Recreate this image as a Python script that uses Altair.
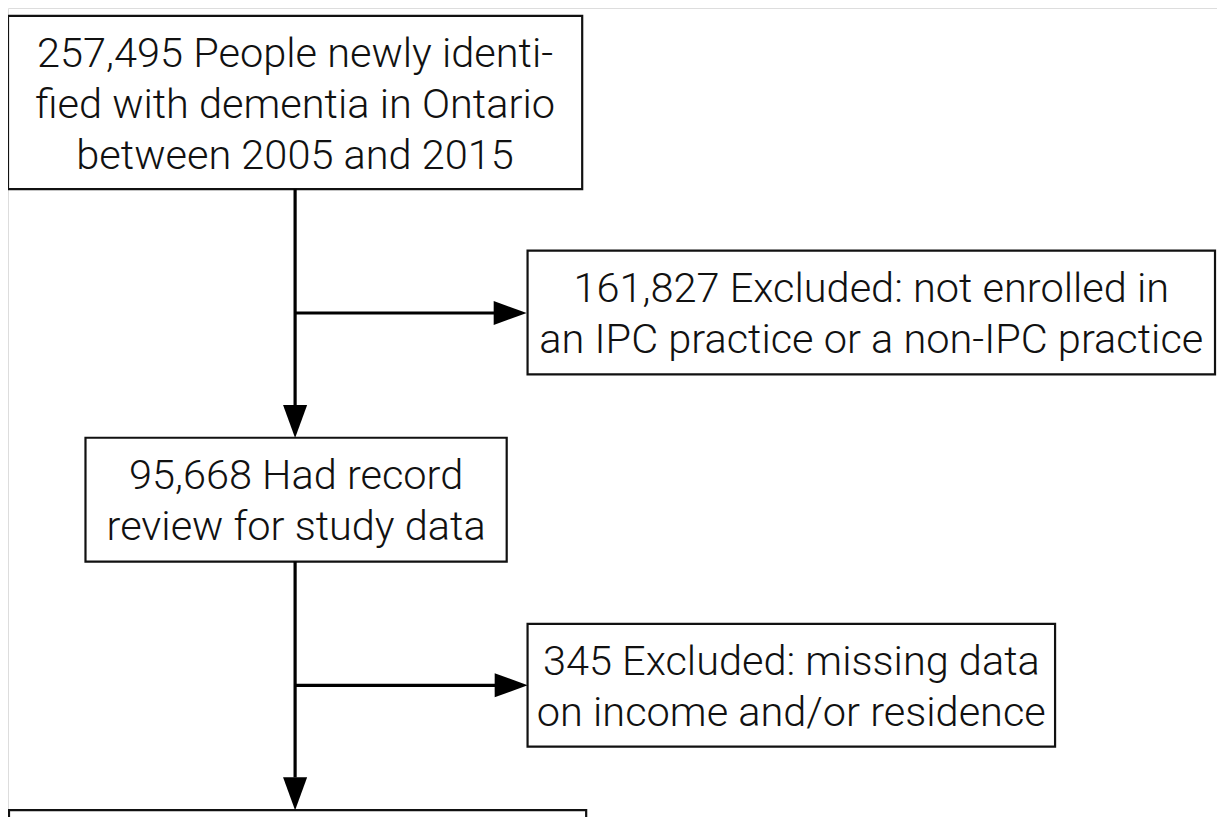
import altair as alt
import pandas as pd

# ---- flowchart content ----
box_texts = [
    "257,495 People newly identi-\nfied with dementia in Ontario\nbetween 2005 and 2015",
    "161,827 Excluded: not enrolled in\nan IPC practice or a non-IPC practice",
    "95,668 Had record\nreview for study data",
    "345 Excluded: missing data\non income and/or residence",
    "",
]
# box geometry in page pixels (left, right, top, bottom)
box_x1 = [8, 531, 86, 531, 9]
box_x2 = [586, 1223, 510, 1062, 590]
box_y1 = [16, 253, 442, 630, 818]
box_y2 = [191, 378, 567, 754, 900]

# connector segments
seg_x1 = [297, 297, 297, 297]
seg_x2 = [297, 500, 297, 500]
seg_y1 = [191, 316, 567, 692]
seg_y2 = [410, 316, 785, 692]

# arrow heads (tip positions) and direction angle
head_x = [530, 297, 531, 297]
head_y = [316, 442, 692, 818]
head_angle = [0, 90, 0, 90]

HEAD_LEN = 33
LINE_H = 51

boxes = pd.DataFrame({
    "x1": box_x1, "x2": box_x2, "y1": box_y1, "y2": box_y2,
    "label": box_texts,
})
boxes["cx"] = (boxes.x1 + boxes.x2) / 2
boxes["cy"] = (boxes.y1 + boxes.y2) / 2
labels = boxes[boxes.label != ""].copy()
labels["nlines"] = labels.label.str.count("\n") + 1
labels["ty"] = labels.cy - (labels.nlines - 1) * LINE_H / 2 + 3

segs = pd.DataFrame({"x1": seg_x1, "x2": seg_x2, "y1": seg_y1, "y2": seg_y2})

heads = pd.DataFrame({"x": head_x, "y": head_y, "angle": head_angle})
heads["cx"] = [x - HEAD_LEN / 2 if a == 0 else x for x, a in zip(heads.x, heads.angle)]
heads["cy"] = [y - HEAD_LEN / 2 if a == 90 else y for y, a in zip(heads.y, heads.angle)]

W, H = 1209, 809
xs = alt.Scale(domain=[8, 1225], range=[0, W], nice=False, zero=False)
ys = alt.Scale(domain=[8, 825], range=[0, H], nice=False, zero=False)

rects = alt.Chart(boxes).mark_rect(
    fill="white", stroke="#111111", strokeWidth=2.2, clip=True
).encode(
    x=alt.X("x1:Q", scale=xs, axis=None),
    x2="x2:Q",
    y=alt.Y("y1:Q", scale=ys, axis=None),
    y2="y2:Q",
)

lines = alt.Chart(segs).mark_rule(color="#000000", strokeWidth=3.2).encode(
    x=alt.X("x1:Q", scale=xs, axis=None),
    x2="x2:Q",
    y=alt.Y("y1:Q", scale=ys, axis=None),
    y2="y2:Q",
)

arrow_path = "M1,0 L-1,-0.73 L-1,0.73 Z"
arrows = alt.Chart(heads).mark_point(
    shape=arrow_path, filled=True, color="#000000", size=HEAD_LEN ** 2, opacity=1, strokeWidth=0
).encode(
    x=alt.X("cx:Q", scale=xs, axis=None),
    y=alt.Y("cy:Q", scale=ys, axis=None),
    angle=alt.Angle("angle:Q", scale=None),
)

texts = alt.Chart(labels).mark_text(
    font="Roboto", fontSize=41.5, fontWeight=300, lineHeight=LINE_H, align="center",
    baseline="middle", color="#111111", lineBreak="\n"
).encode(
    x=alt.X("cx:Q", scale=xs, axis=None),
    y=alt.Y("ty:Q", scale=ys, axis=None),
    text="label:N",
)

chart = alt.layer(rects, lines, arrows, texts).properties(
    width=W, height=H, padding=0, autosize=alt.AutoSizeParams(type="none")
).configure_view(strokeWidth=0, stroke="transparent").configure(background="white")

chart.save("out.html", embed_options={"renderer": "svg", "actions": False})
